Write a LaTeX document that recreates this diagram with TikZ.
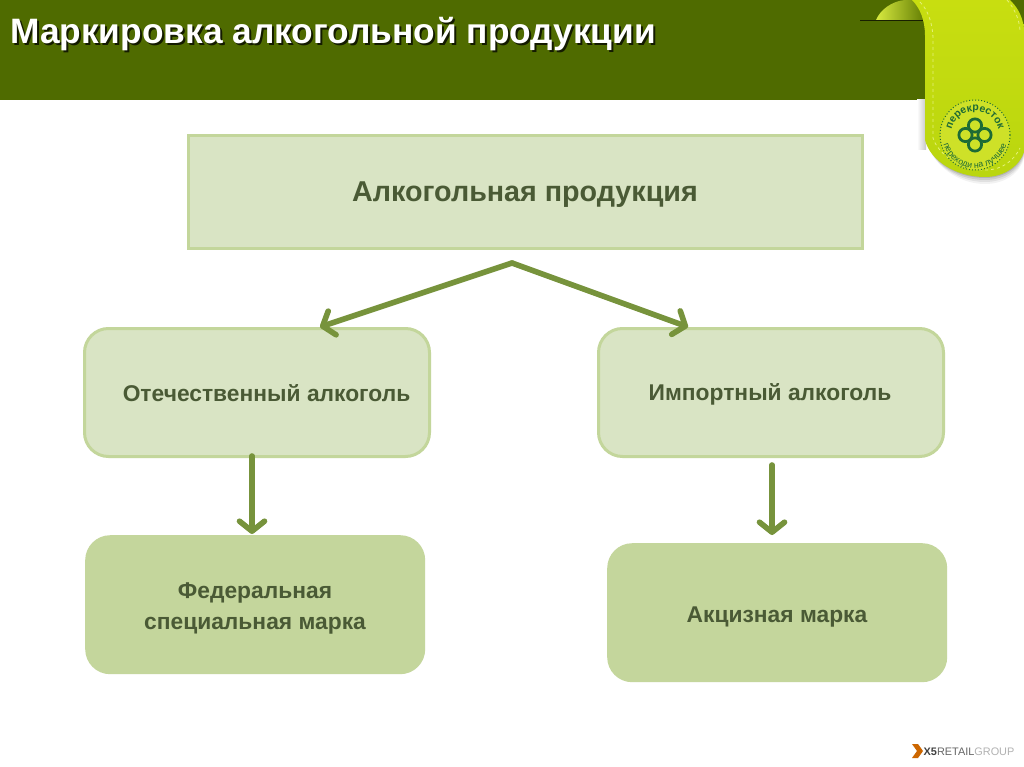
\documentclass[tikz,border=0pt]{standalone}
\usepackage{fontspec}
\setmainfont{Liberation Sans}
\usetikzlibrary{arrows.meta,decorations.text,calc}
\definecolor{hdr}{HTML}{4F6B00}
\definecolor{lightfill}{HTML}{D9E4C4}
\definecolor{midfill}{HTML}{C4D69C}
\definecolor{edgeg}{HTML}{C3D69B}
\definecolor{arrowg}{HTML}{77933C}
\definecolor{txtg}{HTML}{4A5A35}
\definecolor{ribbon}{HTML}{C8DE10}
\definecolor{ribbonb}{HTML}{BAD60F}
\definecolor{ribbonl}{HTML}{D8EA40}
\definecolor{logog}{HTML}{1E6B35}
\tikzset{
  x=1pt,y=-1pt,
  lightbox/.style={fill=lightfill,draw=edgeg,line width=3pt,rounded corners=24pt,inner sep=0pt,anchor=north west},
  markbox/.style={fill=midfill,rounded corners=25pt,inner sep=0pt,anchor=north west},
  boxtext/.style={font=\bfseries\fontsize{22.8}{31}\selectfont,text=txtg,align=center},
  flow/.style={draw=arrowg,line width=5.6pt,line cap=round,line join=round,-{Straight Barb[length=10pt,width=25pt,line width=5.6pt,round]}},
  petal/.style={draw=logog,line width=2.8pt,fill=none},
}
\begin{document}
\begin{tikzpicture}
\useasboundingbox (0,0) rectangle (1024,767);
\fill[white] (0,0) rectangle (1024,767);
% header
\fill[hdr] (0,0) rectangle (1024,100);
\fill[white] (925,100) rectangle (1024,190);
\node[anchor=west,inner sep=0pt,text=black!75!hdr,font=\bfseries\fontsize{35.3}{40}\selectfont] (titleshadow) at (12,36) {Маркировка алкогольной продукции};
\node[anchor=west,text=white,font=\bfseries\fontsize{35.3}{40}\selectfont,inner sep=0pt] (title) at (10,34) {Маркировка алкогольной продукции};
% ribbon shadow
\fill[left color=white,right color=black!22] (917,100) rectangle (926,150);
\foreach \o/\a in {8/.05,6/.07,4/.09,2/.12}{
  \fill[black,opacity=\a] (925,130) .. controls (925,160) and (955,\o+176) .. (985,\o+176) .. controls (1005,\o+176) and (1020,\o+165) .. (1024,\o+150) -- (1024,130) -- cycle;
}
% ribbon back curl
\draw[black!70!hdr,line width=1pt] (860,20.5) -- (926,20.5);
\shade[left color=ribbonl,right color=hdr!85!ribbon,shading angle=90] (876,20) .. controls (880,10) and (892,1) .. (905,0) -- (925,0) -- (925,20) -- cycle;
% ribbon front
\shade[top color=ribbon,bottom color=ribbonb] (912,0) .. controls (920,8) and (925,20) .. (925,36) -- (925,140) .. controls (930,160) and (955,177) .. (985,177) .. controls (1005,177) and (1020,165) .. (1024,152) -- (1024,28) .. controls (1022,14) and (1016,6) .. (1010,0) -- cycle;
\draw[ribbonl!70!white,line width=.8pt,dashed] (920,2) .. controls (928,10) and (933,24) .. (933,40) -- (933,138) .. controls (938,154) and (960,170) .. (985,170) .. controls (1003,170) and (1014,160) .. (1020,148);
\draw[ribbonl!70!white,line width=.8pt,dashed] (1007,0) .. controls (1014,8) and (1019,18) .. (1020,30);
% badge
\fill[ribbon!90!white] (975,135) circle (35);
\draw[logog,line width=1pt,dotted] (975,135) circle (35);
\foreach \dx/\dy in {0/-9.5,0/9.5,-9.5/0,9.5/0}{
  \draw[petal] (975+\dx,135+\dy) circle (6.6);
}
\path[postaction={decorate,decoration={text along path,text align=center,raise=0pt,
  text={|\bfseries\fontsize{10.5}{10.5}\selectfont\color{logog}|перекресток}}}]
  (951,135) arc[start angle=180,end angle=360,radius=24];
\path[postaction={decorate,decoration={text along path,text align=center,raise=0pt,
  text={|\fontsize{8.8}{8.8}\selectfont\color{logog}|переходи на лучшее}}}]
  (942,135) arc[start angle=180,end angle=0,radius=33];
% boxes
\node[lightbox,rounded corners=0pt,minimum width=674pt,minimum height=113pt] (top) at (187,134) {};
\node[lightbox,minimum width=345pt,minimum height=128pt] (dom) at (83,327) {};
\node[lightbox,minimum width=345pt,minimum height=128pt] (imp) at (597,327) {};
\node[markbox,minimum width=340pt,minimum height=139pt] (fed) at (85,535) {};
\node[markbox,minimum width=340pt,minimum height=139pt] (exc) at (607,543) {};
% labels
\node[font=\bfseries\fontsize{28.7}{30}\selectfont,text=txtg] (toplabel) at (525,195) {Алкогольная продукция};
\node[boxtext] (domlabel) at (266.5,393) {Отечественный алкоголь};
\node[boxtext] (implabel) at (770,394) {Импортный алкоголь};
\node[boxtext] (fedlabel) at (255,608.5) {Федеральная\\специальная марка};
\node[boxtext] (exclabel) at (777,617) {Акцизная марка};
% connectors
\coordinate (peak) at (512,263);
\coordinate (ltip) at (320,327);
\coordinate (rtip) at (688,327);
\coordinate (dstart) at (252,456);
\coordinate (dtip) at (252,534);
\coordinate (istart) at (772,465);
\coordinate (itip) at (772,535);
\draw[flow] (peak) -- (ltip);
\draw[flow] (peak) -- (rtip);
\draw[flow] (dstart) -- (dtip);
\draw[flow] (istart) -- (itip);
% X5 logo
\fill[orange!80!black] (912,744) -- (918,744) -- (923,751) -- (918,758) -- (912,758) -- (917,751) -- cycle;
\node[anchor=west,inner sep=0pt,font=\fontsize{10.9}{14}\selectfont] (x5) at (923.5,752) {\textcolor{black!75}{\bfseries X5}\textcolor{black!60}{RETAIL}\textcolor{black!30}{GROUP}};
\end{tikzpicture}
\end{document}
